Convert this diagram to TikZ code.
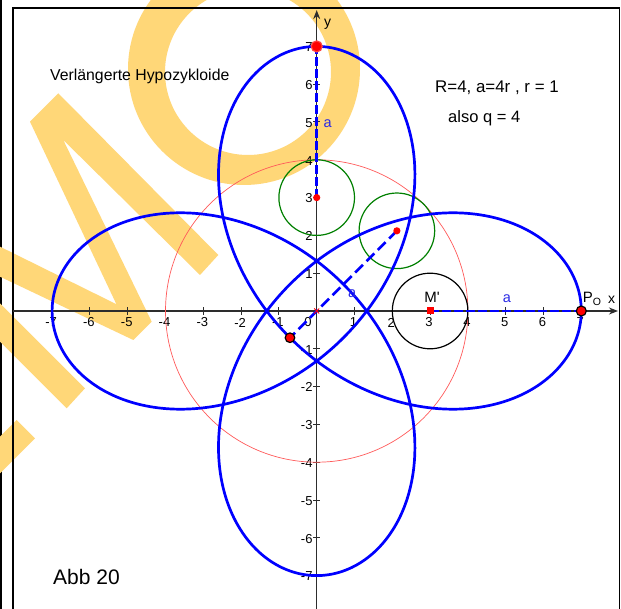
\documentclass[tikz,border=0pt]{standalone}
\usepackage{fontspec}
\setmainfont{Liberation Sans}
\usetikzlibrary{arrows.meta}
\definecolor{wm}{RGB}{255,215,120}
\definecolor{axc}{RGB}{45,45,45}
\definecolor{cblue}{RGB}{0,0,255}
\definecolor{cgreen}{RGB}{0,128,0}
\definecolor{cred}{RGB}{255,0,0}
\definecolor{thinred}{RGB}{255,90,90}
\definecolor{alabel}{RGB}{40,40,230}
\tikzset{
  curvestyle/.style={cblue, line width=2.7pt},
  dashseg/.style={cblue, line width=2.7pt, dash pattern=on 9pt off 3pt},
  rollc/.style={cgreen, line width=1.2pt},
  axisline/.style={axc, line width=1.2pt},
  tickline/.style={axc, line width=1pt},
  ticklab/.style={font=\fontsize{13}{15}\selectfont, inner sep=0pt, text=black},
  alab/.style={font=\fontsize{14.5}{16}\selectfont, inner sep=0pt, text=alabel},
  bigtext/.style={inner sep=0pt, anchor=base west, text=black},
  smallpt/.style={fill=cred},
  bigpt/.style={fill=cred, draw=black, line width=1.2pt}
}
\begin{document}
\begin{tikzpicture}[x=1pt,y=-1pt]
\useasboundingbox (0,0) rectangle (621,609);
\fill[white] (0,0) rectangle (621,609);
\fill[black] (0,0) rectangle (2.2,609);
% watermark
\fill[wm] (-5,244.2) -- (116.4,304.2) -- (30,121.7) -- (58.3,93.3) -- (218.3,255) -- (200,275) -- (63.3,140) -- (151.7,321.7) -- (133.3,340) -- (-5,274.3) -- cycle;
\fill[wm] (-5,298.3) -- (85,388.3) -- (66.7,408.3) -- (-5,336.6) -- cycle;
\fill[wm] (16.7,420) -- (35,438.3) -- (-5,478.3) -- (-23.3,460) -- cycle;
\fill[wm, even odd rule] (244,69) circle[radius=116] (248,72) circle[radius=83];
% frame
\draw[line width=1.8pt] (13.3,620) -- (13.3,8.2) -- (619.5,8.2) -- (619.5,620);
% texts
\node[bigtext, font=\fontsize{15.8}{18}\selectfont] (title) at (50,81) {Verlängerte Hypozykloide};
\node[bigtext, font=\fontsize{16.9}{18}\selectfont] (par1) at (435,92.3) {R=4, a=4r , r = 1};
\node[bigtext, font=\fontsize{16.5}{18}\selectfont] (par2) at (448,122.7) {also q = 4};
\node[bigtext, font=\fontsize{21}{24}\selectfont] (abb) at (53,584) {Abb 20};
\begin{scope}[shift={(316.7,311)}, x=37.8pt, y=37.8pt]
  % axes
  \coordinate (xl) at (-8.03,0);
  \coordinate (xr) at (7.97,0);
  \coordinate (yb) at (0,-8.2);
  \coordinate (yt) at (0,7.96);
  \draw[axisline, -{Stealth[length=9pt,width=7pt]}] (xl) -- (xr);
  \draw[axisline, -{Stealth[length=9pt,width=7pt]}] (yb) -- (yt);
  \foreach \i in {-7,...,-1,1,2,...,7} {
    \draw[tickline] ([yshift=-4pt]\i,0) -- ([yshift=4pt]\i,0);
    \draw[tickline] ([xshift=-3.5pt]0,\i) -- ([xshift=3.5pt]0,\i);
    \node[ticklab] at ([xshift=-1pt,yshift=-11.5pt]\i,0) {\i};
    \node[ticklab, anchor=east] at ([xshift=-4pt,yshift=-0.8pt]0,\i) {\i};
  }
  \node[ticklab] (zero) at ([xshift=-8.7pt,yshift=-11.5pt]0,0) {0};
  \node[font=\fontsize{14}{16}\selectfont, inner sep=0pt] (xlab) at ([xshift=295pt,yshift=11pt]0,0) {x};
  \node[font=\fontsize{14}{16}\selectfont, inner sep=0pt] (ylab) at ([xshift=11pt,yshift=287pt]0,0) {y};
  % fixed circle
  \draw[thinred, line width=0.7pt] (0,0) circle[radius=4];
  % rolling circles
  \coordinate (My) at (0,3);
  \coordinate (Md) at (2.1213,2.1213);
  \coordinate (Mx) at (3,0);
  \coordinate (Py) at (0,7);
  \coordinate (Pd) at (-0.7071,-0.7071);
  \coordinate (Px) at (7,0);
  \draw[rollc] (My) circle[radius=1];
  \draw[rollc] (Md) circle[radius=1];
  \draw[black, line width=1.2pt] (Mx) circle[radius=1];
  % curve
  \draw[curvestyle] plot[domain=0:360, samples=721, variable=\t] ({3*cos(\t)+4*cos(3*\t)},{3*sin(\t)-4*sin(3*\t)}) -- cycle;
  % dashed radii
  \draw[dashseg] (Mx) -- (Px);
  \draw[dashseg] (My) -- (Py);
  \draw[dashseg, dash pattern=on 11pt off 5pt] (Md) -- (Pd);
  % origin mark
  \draw[cred, line width=0.9pt] ([xshift=-2.5pt,yshift=-2.5pt]0,0) -- ([xshift=2.5pt,yshift=2.5pt]0,0);
  \draw[cred, line width=0.9pt] ([xshift=-2.5pt,yshift=2.5pt]0,0) -- ([xshift=2.5pt,yshift=-2.5pt]0,0);
  % points
  \fill[smallpt] (My) circle[radius=3.6pt];
  \fill[smallpt] (Md) circle[radius=3.6pt];
  \fill[smallpt] ([xshift=-3.5pt,yshift=-3.5pt]Mx) rectangle ([xshift=3.5pt,yshift=3.5pt]Mx);
  \filldraw[fill=cred, draw=red!75!white, line width=1.2pt] (Py) circle[radius=5.5pt];
  \filldraw[bigpt] (Pd) circle[radius=4.8pt];
  \filldraw[bigpt] (Px) circle[radius=5pt];
  % labels a
  \node[alab] (ax1) at (5.03,0.32) {a};
  \node[alab] (ay1) at (0.29,4.95) {a};
  \node[alab] (ad1) at (0.94,0.47) {a};
  % M' and P_O
  \node[font=\fontsize{15}{17}\selectfont, inner sep=0pt] (Mlab) at ([xshift=115.3pt,yshift=14pt]0,0) {M\textquotesingle};
  \node[font=\fontsize{15}{17}\selectfont, inner sep=0pt, anchor=base west] (Plab) at ([xshift=266pt,yshift=8.5pt]0,0) {P\raisebox{-3.5pt}{\fontsize{10.5}{12}\selectfont O}};
\end{scope}
\end{tikzpicture}
\end{document}
